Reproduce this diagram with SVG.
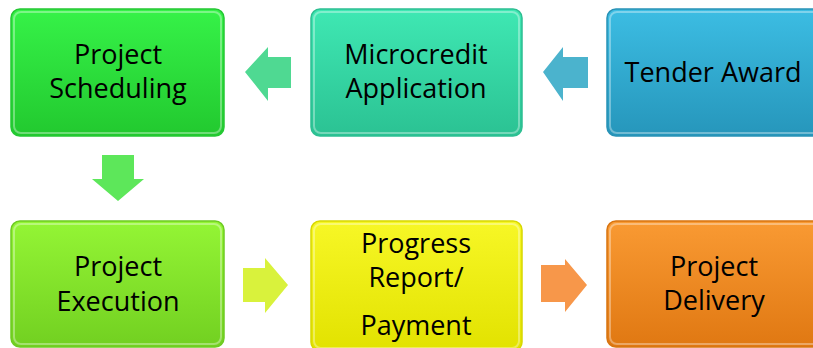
<svg xmlns="http://www.w3.org/2000/svg" width="813" height="348" viewBox="0 0 813 348">
<style>
.lbl{font-family:"Open Sans","Liberation Sans",sans-serif;font-size:27px;fill:#000;text-anchor:middle}
.box{stroke-width:1.5}
.hl{fill:none;stroke:#ffffff;stroke-opacity:0.35;stroke-width:2}
</style>
<defs>
<linearGradient id="g1" x1="0" y1="0" x2="0" y2="1"><stop offset="0" stop-color="#36f248"/><stop offset="1" stop-color="#22c92f"/></linearGradient>
<linearGradient id="g2" x1="0" y1="0" x2="0" y2="1"><stop offset="0" stop-color="#3fe8b3"/><stop offset="1" stop-color="#2bc293"/></linearGradient>
<linearGradient id="g3" x1="0" y1="0" x2="0" y2="1"><stop offset="0" stop-color="#3cbde3"/><stop offset="1" stop-color="#2696bb"/></linearGradient>
<linearGradient id="g4" x1="0" y1="0" x2="0" y2="1"><stop offset="0" stop-color="#94f535"/><stop offset="1" stop-color="#72d021"/></linearGradient>
<linearGradient id="g5" x1="0" y1="0" x2="0" y2="1"><stop offset="0" stop-color="#f7f726"/><stop offset="1" stop-color="#e2e200"/></linearGradient>
<linearGradient id="g6" x1="0" y1="0" x2="0" y2="1"><stop offset="0" stop-color="#f99a33"/><stop offset="1" stop-color="#e07812"/></linearGradient>
</defs>

<g id="connectors">
<polygon points="245,72 268,47 268,57 291,57 291,88 268,88 268,101" fill="#4fd992"/>
<polygon points="543,72 563,47 563,57 588,57 588,88 563,88 563,101" fill="#4bb3cd"/>
<polygon points="102,155 134,155 134,179 144,179 118,201 92,179 102,179" fill="#5de75a"/>
<polygon points="243,268 265,268 265,258 288,285 265,313 265,302 243,302" fill="#d9f23c"/>
<polygon points="541,265 565,265 565,259 587,285 565,312 565,302 541,302" fill="#f7974a"/>
</g>

<g id="n-scheduling">
<rect class="box" x="11" y="9" width="213" height="127" rx="9" fill="url(#g1)" stroke="#24c833"/>
<rect class="hl" x="14" y="12" width="207" height="121" rx="7"/>
<text class="lbl" x="118" y="64">Project</text>
<text class="lbl" x="118" y="98">Scheduling</text>
</g>

<g id="n-microcredit">
<rect class="box" x="311" y="9" width="211" height="127" rx="9" fill="url(#g2)" stroke="#2dbf92"/>
<rect class="hl" x="314" y="12" width="205" height="121" rx="7"/>
<text class="lbl" x="416" y="64">Microcredit</text>
<text class="lbl" x="416" y="98">Application</text>
</g>

<g id="n-tender">
<rect class="box" x="607" y="9" width="220" height="127" rx="9" fill="url(#g3)" stroke="#2892b6"/>
<rect class="hl" x="610" y="12" width="214" height="121" rx="7"/>
<text class="lbl" x="713" y="82">Tender Award</text>
</g>

<g id="n-execution">
<rect class="box" x="11" y="221" width="213" height="126" rx="9" fill="url(#g4)" stroke="#6ecb22"/>
<rect class="hl" x="14" y="224" width="207" height="120" rx="7"/>
<text class="lbl" x="118" y="276">Project</text>
<text class="lbl" x="118" y="311">Execution</text>
</g>

<g id="n-progress">
<rect class="box" x="311" y="221" width="211" height="130" rx="9" fill="url(#g5)" stroke="#d8d800"/>
<rect class="hl" x="314" y="224" width="205" height="124" rx="7"/>
<text class="lbl" x="416" y="253">Progress</text>
<text class="lbl" x="416" y="287">Report/</text>
<text class="lbl" x="416" y="335">Payment</text>
</g>

<g id="n-delivery">
<rect class="box" x="607" y="221" width="220" height="126" rx="9" fill="url(#g6)" stroke="#d87410"/>
<rect class="hl" x="610" y="224" width="214" height="120" rx="7"/>
<text class="lbl" x="714" y="276">Project</text>
<text class="lbl" x="714" y="310">Delivery</text>
</g>
</svg>
